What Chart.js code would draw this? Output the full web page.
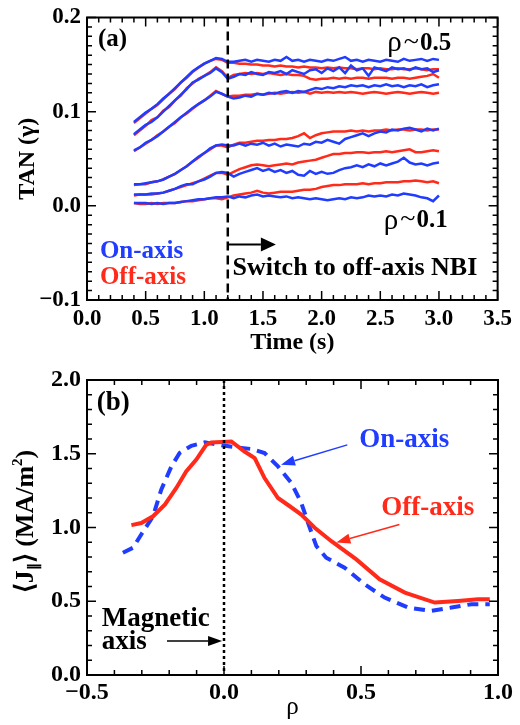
<!DOCTYPE html>
<html>
<head>
<meta charset="utf-8">
<script src="https://cdn.jsdelivr.net/npm/chart.js@4.4.1/dist/chart.umd.min.js"></script>
<style>
  html, body { margin: 0; padding: 0; background: #fff; }
  #wrap { position: relative; width: 520px; height: 725px; }
  canvas { position: absolute; left: 0; }
  #chartA { top: 0; }
  #chartB { top: 360px; }
</style>
</head>
<body>
<div id="wrap">
  <canvas id="chartA" width="520" height="360"></canvas>
  <canvas id="chartB" width="520" height="365"></canvas>
</div>
<script>
// ---- panel (a): TAN(gamma) vs time, 1 = rho~0.5 (top) ... 6 = rho~0.1 (bottom)
const times = [0.40,0.45,0.50,0.55,0.60,0.65,0.70,0.75,0.80,0.85,0.90,0.95,1.00,1.05,1.10,1.15,1.20,
  1.25,1.30,1.35,1.40,1.45,1.50,1.55,1.60,1.65,1.70,1.75,1.80,1.85,1.90,1.95,2.00,2.05,2.10,2.15,2.20,
  2.25,2.30,2.35,2.40,2.45,2.50,2.55,2.60,2.65,2.70,2.75,2.80,2.85,2.90,2.95,3.00];
const switchTime = 1.2;

const onAxis1 = [0.089,0.094,0.099,0.103,0.108,0.114,0.119,0.125,0.131,0.137,0.143,0.147,0.151,0.154,0.157,0.156,0.153,
  0.153,0.154,0.155,0.153,0.155,0.154,0.153,0.155,0.154,0.158,0.154,0.155,0.153,0.155,0.154,0.153,0.155,0.154,0.156,0.158,
  0.154,0.155,0.153,0.155,0.154,0.153,0.155,0.154,0.153,0.156,0.154,0.155,0.156,0.154,0.156,0.155];
const offAxis1 = [0.088,0.093,0.098,0.103,0.107,0.113,0.119,0.124,0.131,0.136,0.142,0.147,0.151,0.154,0.156,0.155,0.152,
  0.152,0.151,0.151,0.150,0.150,0.149,0.149,0.148,0.149,0.148,0.148,0.147,0.148,0.147,0.147,0.146,0.147,0.146,0.147,0.146,
  0.146,0.145,0.146,0.146,0.145,0.146,0.145,0.145,0.146,0.145,0.145,0.146,0.145,0.144,0.145,0.145];
const onAxis2 = [0.076,0.081,0.086,0.089,0.094,0.100,0.106,0.112,0.118,0.124,0.131,0.134,0.138,0.141,0.146,0.142,0.135,
  0.137,0.140,0.139,0.142,0.140,0.139,0.142,0.141,0.143,0.140,0.144,0.142,0.140,0.144,0.145,0.141,0.146,0.143,0.147,0.141,
  0.149,0.144,0.146,0.138,0.147,0.145,0.143,0.147,0.145,0.146,0.144,0.147,0.145,0.146,0.142,0.144];
const offAxis2 = [0.075,0.080,0.085,0.091,0.094,0.101,0.105,0.112,0.117,0.125,0.130,0.135,0.138,0.142,0.147,0.143,0.136,
  0.139,0.140,0.141,0.140,0.141,0.140,0.141,0.140,0.139,0.140,0.139,0.139,0.138,0.135,0.134,0.135,0.135,0.136,0.135,0.136,
  0.135,0.136,0.136,0.135,0.136,0.136,0.136,0.135,0.136,0.136,0.135,0.136,0.137,0.138,0.140,0.136];
const onAxis3 = [0.059,0.062,0.067,0.070,0.074,0.079,0.084,0.089,0.094,0.099,0.104,0.108,0.112,0.116,0.121,0.119,0.116,
  0.114,0.115,0.117,0.116,0.119,0.118,0.120,0.119,0.121,0.122,0.120,0.122,0.121,0.123,0.125,0.124,0.126,0.125,0.127,0.126,
  0.128,0.127,0.128,0.126,0.128,0.127,0.129,0.127,0.128,0.126,0.128,0.127,0.129,0.126,0.128,0.129];
const offAxis3 = [0.058,0.062,0.066,0.070,0.075,0.079,0.084,0.088,0.094,0.098,0.103,0.108,0.112,0.117,0.122,0.119,0.116,
  0.117,0.117,0.118,0.118,0.119,0.118,0.119,0.120,0.119,0.120,0.121,0.120,0.121,0.119,0.121,0.120,0.121,0.120,0.121,0.120,
  0.121,0.120,0.119,0.120,0.121,0.120,0.119,0.120,0.121,0.120,0.119,0.120,0.121,0.120,0.119,0.120];
const onAxis4 = [0.023,0.023,0.024,0.025,0.026,0.028,0.031,0.034,0.038,0.042,0.047,0.052,0.056,0.061,0.064,0.065,0.064,
  0.064,0.066,0.064,0.066,0.065,0.067,0.064,0.066,0.063,0.065,0.064,0.063,0.066,0.065,0.068,0.067,0.070,0.068,0.066,0.071,
  0.073,0.075,0.077,0.074,0.077,0.079,0.078,0.081,0.080,0.082,0.083,0.081,0.079,0.082,0.080,0.082];
const offAxis4 = [0.022,0.023,0.023,0.025,0.026,0.028,0.031,0.034,0.038,0.042,0.047,0.051,0.056,0.060,0.064,0.064,0.062,
  0.065,0.067,0.067,0.068,0.069,0.069,0.070,0.070,0.071,0.071,0.072,0.074,0.077,0.072,0.075,0.077,0.078,0.079,0.079,0.079,
  0.080,0.079,0.080,0.079,0.080,0.080,0.081,0.080,0.081,0.081,0.080,0.081,0.081,0.080,0.081,0.081];
const onAxis5 = [0.012,0.012,0.012,0.013,0.013,0.014,0.016,0.018,0.021,0.023,0.023,0.026,0.028,0.031,0.035,0.036,0.035,
  0.031,0.034,0.036,0.038,0.040,0.037,0.039,0.036,0.038,0.035,0.037,0.033,0.032,0.037,0.034,0.036,0.034,0.035,0.038,0.040,
  0.041,0.043,0.041,0.044,0.042,0.045,0.043,0.045,0.047,0.051,0.046,0.044,0.045,0.043,0.045,0.046];
const offAxis5 = [0.011,0.012,0.012,0.012,0.013,0.014,0.016,0.018,0.020,0.022,0.024,0.026,0.029,0.032,0.035,0.035,0.033,
  0.036,0.039,0.041,0.043,0.044,0.043,0.042,0.043,0.044,0.045,0.044,0.046,0.047,0.048,0.049,0.051,0.053,0.055,0.055,0.056,
  0.056,0.057,0.057,0.056,0.057,0.057,0.058,0.057,0.058,0.059,0.060,0.057,0.057,0.058,0.059,0.058];
const onAxis6 = [0.003,0.003,0.003,0.002,0.003,0.002,0.003,0.003,0.004,0.005,0.006,0.007,0.007,0.008,0.009,0.009,0.010,
  0.008,0.010,0.009,0.011,0.012,0.010,0.011,0.010,0.009,0.010,0.008,0.009,0.008,0.007,0.008,0.007,0.006,0.007,0.008,0.007,
  0.009,0.008,0.009,0.011,0.010,0.011,0.010,0.012,0.011,0.013,0.012,0.011,0.009,0.008,0.005,0.011];
const offAxis6 = [0.003,0.002,0.002,0.003,0.002,0.003,0.003,0.003,0.004,0.005,0.005,0.006,0.007,0.008,0.008,0.007,0.009,
  0.011,0.012,0.013,0.014,0.016,0.014,0.013,0.014,0.015,0.015,0.015,0.016,0.017,0.017,0.018,0.020,0.021,0.022,0.022,0.023,
  0.023,0.023,0.024,0.023,0.024,0.024,0.025,0.025,0.025,0.026,0.026,0.027,0.026,0.025,0.026,0.024];

// ---- panel (b): <J_par> profiles vs rho
const rhoOff = [-0.338,-0.302,-0.259,-0.216,-0.174,-0.138,-0.101,-0.065,-0.046,0.027,0.075,0.112,0.148,0.197,0.240,0.282,0.331,0.392,0.483,0.568,0.660,0.769,0.854,0.927,0.970];
const jOff   = [1.016,1.030,1.076,1.155,1.268,1.380,1.460,1.560,1.577,1.583,1.515,1.470,1.335,1.200,1.144,1.088,0.998,0.907,0.784,0.649,0.559,0.491,0.502,0.514,0.514];
const rhoOn  = [-0.369,-0.332,-0.302,-0.259,-0.229,-0.192,-0.162,-0.119,-0.070,-0.022,0.039,0.100,0.148,0.197,0.246,0.282,0.307,0.337,0.373,0.440,0.513,0.586,0.672,0.757,0.830,0.903,0.970];
const jOn    = [0.829,0.863,0.953,1.076,1.257,1.414,1.505,1.554,1.577,1.561,1.545,1.532,1.505,1.414,1.302,1.167,1.030,0.874,0.795,0.728,0.615,0.525,0.457,0.435,0.457,0.480,0.480];

const BLUE = '#1f3cff';
const RED = '#ff2a1a';
const SERIF = '"Liberation Serif", "Times New Roman", serif';

function fnt(size, weight) { return (weight || 'bold') + ' ' + size + 'px ' + SERIF; }

function tickLabel(v) {
  if (Math.abs(v) < 1e-9) return '0.0';
  return (v < 0 ? '\u2212' : '') + Math.abs(v).toFixed(1);
}

function eachTick(scale, major, minor, fn) {
  const n = Math.round((scale.max - scale.min) / minor);
  for (let i = 0; i <= n; i++) {
    const v = scale.min + i * minor;
    const r = v / major;
    fn(v, Math.abs(r - Math.round(r)) < 1e-6);
  }
}

// box round the plot with inward ticks on all four sides (IDL style)
function drawFrame(ctx, area, x, y, xMaj, xMin, yMaj, yMin) {
  ctx.strokeStyle = '#000';
  ctx.lineWidth = 2;
  ctx.strokeRect(area.left, area.top, area.right - area.left, area.bottom - area.top);
  ctx.lineWidth = 1.5;
  ctx.beginPath();
  eachTick(x, xMaj, xMin, (v, major) => {
    const p = x.getPixelForValue(v), len = major ? 9 : 5;
    ctx.moveTo(p, area.bottom); ctx.lineTo(p, area.bottom - len);
    ctx.moveTo(p, area.top); ctx.lineTo(p, area.top + len);
  });
  eachTick(y, yMaj, yMin, (v, major) => {
    const p = y.getPixelForValue(v), len = major ? 9 : 5;
    ctx.moveTo(area.left, p); ctx.lineTo(area.left + len, p);
    ctx.moveTo(area.right, p); ctx.lineTo(area.right - len, p);
  });
  ctx.stroke();
}

function runs(ctx, x, y, parts) {
  ctx.textBaseline = 'middle';
  ctx.textAlign = 'left';
  for (const p of parts) {
    ctx.font = p.font;
    ctx.fillStyle = p.color || '#000';
    ctx.fillText(p.text, x, y + (p.dy || 0));
    x += ctx.measureText(p.text).width + (p.gap || 0);
  }
  return x;
}

function arrow(ctx, x1, y1, x2, y2, color, lw, hl, hw) {
  const a = Math.atan2(y2 - y1, x2 - x1), c = Math.cos(a), s = Math.sin(a);
  ctx.strokeStyle = color; ctx.fillStyle = color; ctx.lineWidth = lw;
  ctx.beginPath(); ctx.moveTo(x1, y1); ctx.lineTo(x2 - hl * c, y2 - hl * s); ctx.stroke();
  ctx.beginPath();
  ctx.moveTo(x2, y2);
  ctx.lineTo(x2 - hl * c + hw * s, y2 - hl * s - hw * c);
  ctx.lineTo(x2 - hl * c - hw * s, y2 - hl * s + hw * c);
  ctx.closePath(); ctx.fill();
}

function rhoLabel(value) {
  return [
    {text: '\u03c1', font: fnt(29, 'normal'), gap: 2},
    {text: '~', font: fnt(28, 'normal'), dy: -1, gap: 1},
    {text: value, font: fnt(25)}
  ];
}

const panelA = {
  id: 'panelA',
  afterDatasetsDraw(chart) {
    const {ctx, chartArea: area, scales: {x, y}} = chart;
    ctx.save();
    const xs = x.getPixelForValue(switchTime);
    ctx.strokeStyle = '#000'; ctx.lineWidth = 2.5; ctx.setLineDash([9, 5]);
    ctx.beginPath(); ctx.moveTo(xs, area.top); ctx.lineTo(xs, area.bottom); ctx.stroke();
    ctx.setLineDash([]);
    drawFrame(ctx, area, x, y, 0.5, 0.1, 0.1, 0.01);

    const X = v => x.getPixelForValue(v), Y = v => y.getPixelForValue(v);
    runs(ctx, X(0.094), Y(0.177), [{text: '(a)', font: fnt(25)}]);
    runs(ctx, X(2.56), Y(0.172), rhoLabel('0.5'));
    runs(ctx, X(2.53), Y(-0.016), rhoLabel('0.1'));
    runs(ctx, X(0.11), Y(-0.049), [{text: 'On-axis', font: fnt(25), color: BLUE}]);
    runs(ctx, X(0.11), Y(-0.076), [{text: 'Off-axis', font: fnt(25), color: RED}]);
    runs(ctx, X(1.24), Y(-0.066), [{text: 'Switch to off-axis NBI', font: fnt(26)}]);
    arrow(ctx, xs, Y(-0.041), X(1.61), Y(-0.041), '#000', 2, 15, 7);
    ctx.restore();
  }
};

const panelB = {
  id: 'panelB',
  afterDatasetsDraw(chart) {
    const {ctx, chartArea: area, scales: {x, y}} = chart;
    ctx.save();
    const x0 = x.getPixelForValue(0);
    ctx.strokeStyle = '#000'; ctx.lineWidth = 2.5; ctx.setLineDash([3, 3]);
    ctx.beginPath(); ctx.moveTo(x0, area.top); ctx.lineTo(x0, area.bottom); ctx.stroke();
    ctx.setLineDash([]);
    drawFrame(ctx, area, x, y, 0.5, 0.1, 0.5, 0.1);

    const X = v => x.getPixelForValue(v), Y = v => y.getPixelForValue(v);
    runs(ctx, X(-0.464), Y(1.845), [{text: '(b)', font: fnt(27)}]);
    runs(ctx, X(0.494), Y(1.595), [{text: 'On-axis', font: fnt(27), color: BLUE}]);
    arrow(ctx, X(0.45), Y(1.56), X(0.208), Y(1.426), BLUE, 1.5, 14, 5);
    runs(ctx, X(0.574), Y(1.135), [{text: 'Off-axis', font: fnt(27), color: RED}]);
    arrow(ctx, X(0.64), Y(1.02), X(0.41), Y(0.899), RED, 1.5, 14, 5);
    runs(ctx, X(-0.446), Y(0.378), [{text: 'Magnetic', font: fnt(27)}]);
    runs(ctx, X(-0.446), Y(0.223), [{text: 'axis', font: fnt(27)}]);
    arrow(ctx, X(-0.208), Y(0.23), X(-0.007), Y(0.23), '#000', 1.5, 14, 5);

    // y title: <J_par> (MA/m^2), rotated
    const parts = [
      {text: '\u27e8J', font: fnt(26)},
      {text: '\u2225', font: fnt(14), dy: 8},
      {text: '\u27e9 (MA/m', font: fnt(26)},
      {text: '2', font: fnt(15), dy: -8},
      {text: ')', font: fnt(26)}
    ];
    let w = 0;
    for (const p of parts) { ctx.font = p.font; w += ctx.measureText(p.text).width; }
    ctx.translate(26, (area.top + area.bottom) / 2 - 6);
    ctx.rotate(-Math.PI / 2);
    runs(ctx, -w / 2, 0, parts);
    ctx.restore();
  }
};

function axisFont(size, weight) {
  return {family: SERIF, size: size, weight: weight || 'bold', lineHeight: 1};
}
const noGrid = {display: false, drawTicks: false};

new Chart(document.getElementById('chartA'), {
  type: 'line',
  data: {
    datasets: [
      ...[onAxis1, onAxis2, onAxis3, onAxis4, onAxis5, onAxis6].map(v => ({
        data: times.map((t, i) => ({x: t, y: v[i]})), borderColor: BLUE, borderWidth: 2.5, pointRadius: 0, tension: 0
      })),
      ...[offAxis1, offAxis2, offAxis3, offAxis4, offAxis5, offAxis6].map(v => ({
        data: times.map((t, i) => ({x: t, y: v[i]})), borderColor: RED, borderWidth: 2.5, pointRadius: 0, tension: 0
      }))
    ]
  },
  options: {
    responsive: false,
    animation: false,
    events: [],
    layout: {padding: {top: 13, right: 22, left: 0, bottom: 0}},
    plugins: {legend: {display: false}, tooltip: {enabled: false}},
    scales: {
      x: {
        type: 'linear', min: 0, max: 3.5,
        grid: noGrid, border: {display: false},
        ticks: {stepSize: 0.5, callback: tickLabel, font: axisFont(23), color: '#000', padding: 8, maxRotation: 0, autoSkip: false},
        title: {display: true, text: 'Time (s)', font: axisFont(24), color: '#000', padding: {top: 0, bottom: 5}},
        afterFit: s => { s.height = 60; }
      },
      y: {
        min: -0.1, max: 0.2,
        grid: noGrid, border: {display: false},
        ticks: {stepSize: 0.1, callback: tickLabel, font: axisFont(23), color: '#000', padding: 6},
        title: {display: true, text: 'TAN (\u03b3)', font: axisFont(24), color: '#000', padding: {top: 16, bottom: 0}},
        afterFit: s => { s.width = 87; }
      }
    }
  },
  plugins: [panelA]
});

new Chart(document.getElementById('chartB'), {
  type: 'line',
  data: {
    datasets: [
      {data: rhoOff.map((r, i) => ({x: r, y: jOff[i]})), borderColor: RED, borderWidth: 4, pointRadius: 0, tension: 0},
      {data: rhoOn.map((r, i) => ({x: r, y: jOn[i]})), borderColor: BLUE, borderWidth: 4, borderDash: [11, 7], pointRadius: 0, tension: 0}
    ]
  },
  options: {
    responsive: false,
    animation: false,
    events: [],
    layout: {padding: {top: 20, right: 22, left: 0, bottom: 0}},
    plugins: {legend: {display: false}, tooltip: {enabled: false}},
    scales: {
      x: {
        type: 'linear', min: -0.5, max: 1.0,
        grid: noGrid, border: {display: false},
        ticks: {stepSize: 0.5, callback: tickLabel, font: axisFont(24), color: '#000', padding: 6, maxRotation: 0, autoSkip: false},
        title: {display: true, text: '\u03c1', font: axisFont(25, 'normal'), color: '#000', padding: {top: 0, bottom: 5}},
        afterFit: s => { s.height = 50; }
      },
      y: {
        min: 0, max: 2.0,
        grid: noGrid, border: {display: false},
        ticks: {stepSize: 0.5, callback: tickLabel, font: axisFont(24), color: '#000', padding: 6},
        afterFit: s => { s.width = 87; }
      }
    }
  },
  plugins: [panelB]
});
</script>
</body>
</html>
